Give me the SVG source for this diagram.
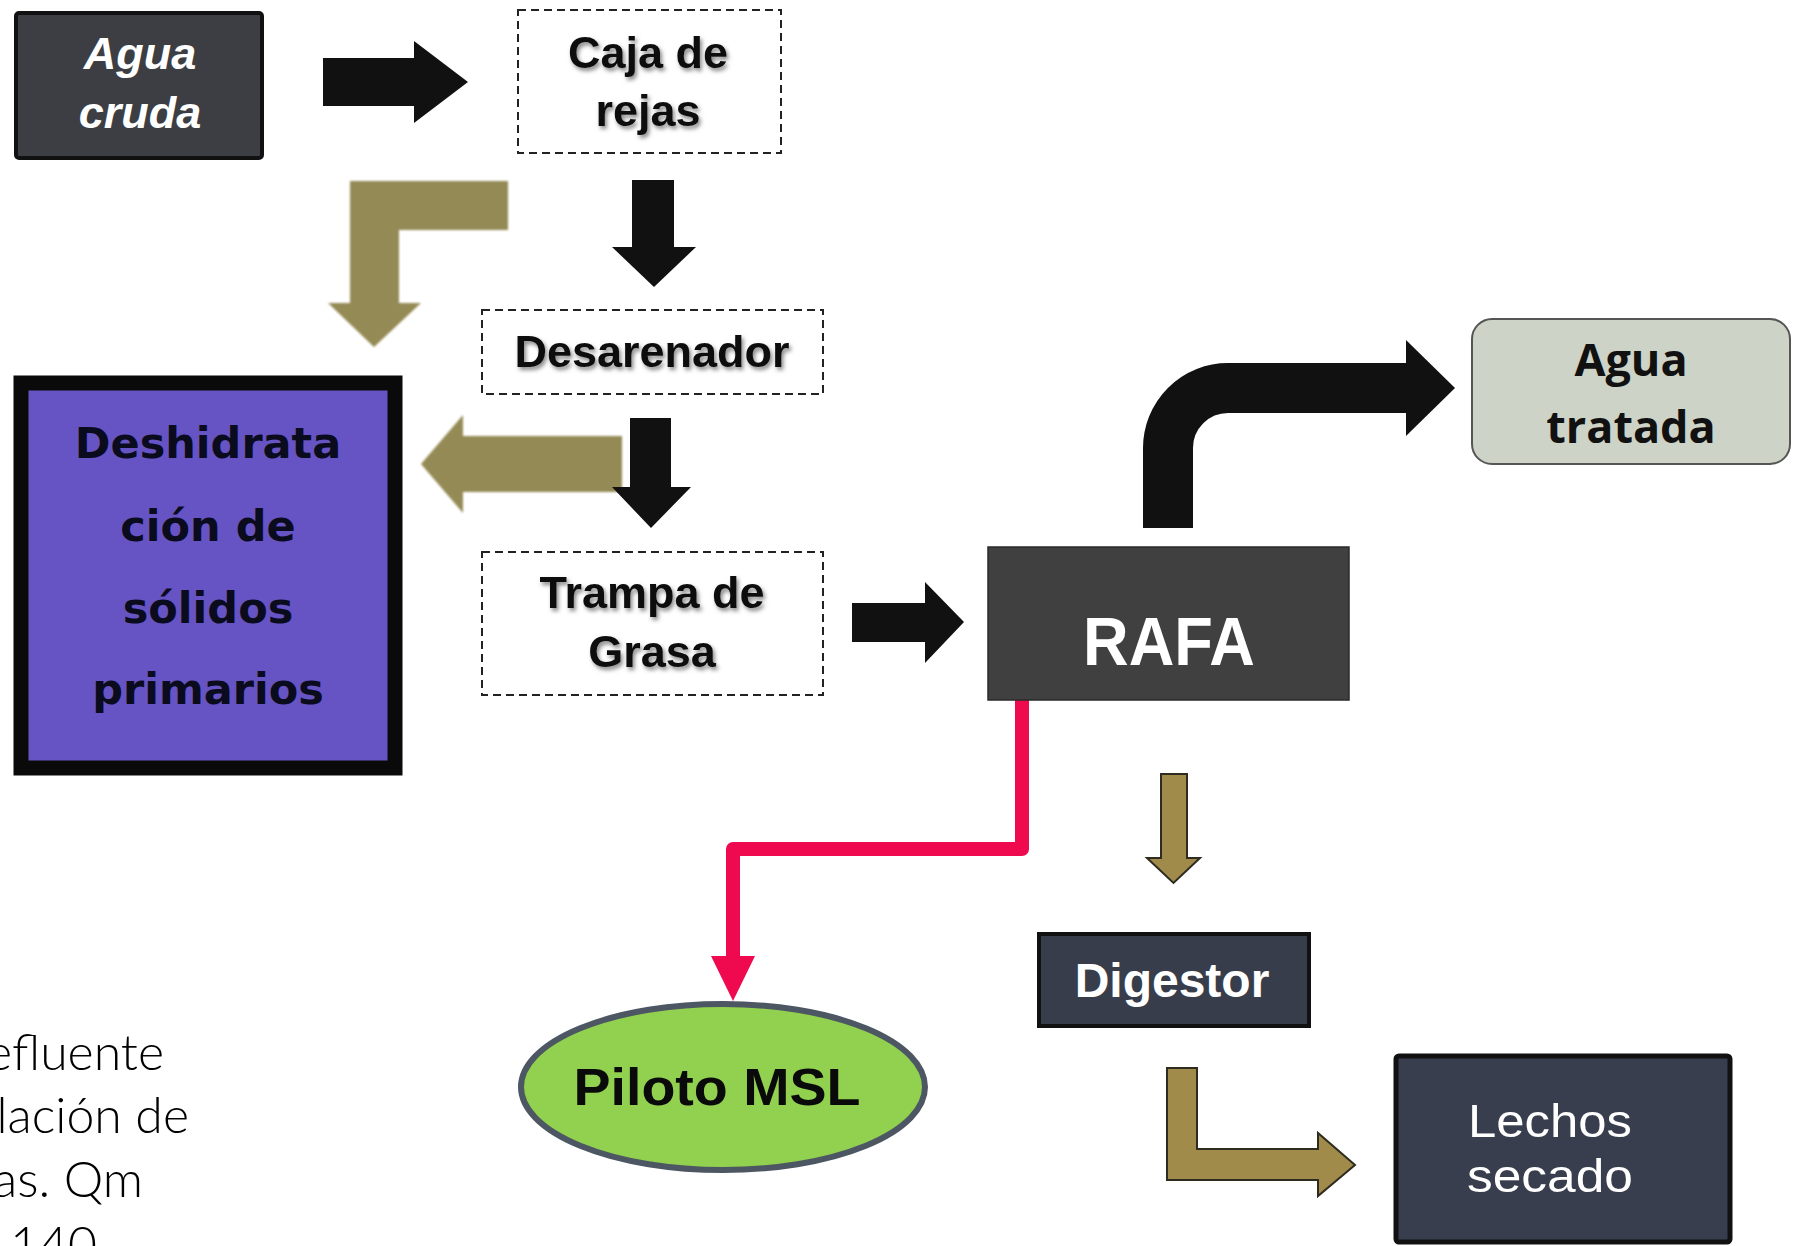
<svg xmlns="http://www.w3.org/2000/svg" width="1793" height="1246" viewBox="0 0 1793 1246">
<defs>
<style>
.dash{fill:#ffffff;stroke:#222;stroke-width:2;stroke-dasharray:8 5}
.blk{fill:#111}
.olv{fill:#948a54}
.olv2{fill:#a08b4a;stroke:#2e2b20;stroke-width:2;stroke-linejoin:miter}
.bt{font-family:'Liberation Sans',Arial,sans-serif;font-weight:bold;fill:#0a0a0a;font-size:45px;text-anchor:middle}
.wt{font-family:'Liberation Sans',Arial,sans-serif;font-weight:bold;fill:#ffffff;text-anchor:middle}
.cap{font-family:Lato,'Liberation Sans',sans-serif;font-weight:300;font-size:50px;fill:#000;text-anchor:end}
</style>
<filter id="sh" x="-10%" y="-20%" width="130%" height="150%">
<feDropShadow dx="2" dy="3" stdDeviation="2" flood-color="#555" flood-opacity="0.7"/>
</filter>
<filter id="soft" x="-5%" y="-5%" width="110%" height="110%">
<feGaussianBlur stdDeviation="1.2"/>
</filter>
</defs>
<rect width="1793" height="1246" fill="#ffffff"/>

<g id="connectors">
<polygon class="blk" points="323,58 414,58 414,41 468,82 414,123 414,106 323,106"/>
<polygon class="blk" points="632,180 674,180 674,247 696,247 654,287 612,247 632,247"/>
<polygon class="olv" filter="url(#soft)" points="350,181 508,181 508,230 399,230 399,303 421,303 374,347 328,303 350,303"/>
<polygon class="olv" filter="url(#soft)" points="622,436 463,436 463,415 421,464 463,513 463,492 622,492"/>
<polygon class="blk" points="630,418 671,418 671,487 691,487 651,528 612,487 630,487"/>
<polygon class="blk" points="852,603 925,603 925,582 964,622 925,663 925,642 852,642"/>
<path d="M1168,528 V448 A60,60 0 0 1 1228,388 H1408" fill="none" stroke="#111" stroke-width="50"/>
<polygon class="blk" points="1406,340 1455,388 1406,436"/>
<path d="M1022,694 V849 H733 V958" fill="none" stroke="#ef0a50" stroke-width="14" stroke-linejoin="round"/>
<polygon fill="#ef0a50" points="711,956 755,956 733,1001"/>
<polygon class="olv2" points="1161,774 1187,774 1187,858 1200,858 1173.5,883 1147,858 1161,858"/>
<polygon class="olv2" points="1167,1068 1197,1068 1197,1149 1318,1149 1318,1133 1355,1165 1318,1196 1318,1180 1167,1180"/>
</g>

<g id="agua-cruda">
<rect x="16" y="13" width="246" height="145" rx="3" fill="#3c3e43" stroke="#111" stroke-width="4"/>
<text class="wt" x="140" y="69" font-size="45" font-style="italic">Agua</text>
<text class="wt" x="140" y="128" font-size="45" font-style="italic">cruda</text>
</g>

<g id="caja-de-rejas">
<rect class="dash" x="518" y="10" width="263" height="143"/>
<text class="bt" x="648" y="68" filter="url(#sh)">Caja de</text>
<text class="bt" x="648" y="126" filter="url(#sh)">rejas</text>
</g>

<g id="desarenador">
<rect class="dash" x="482" y="310" width="341" height="84"/>
<text class="bt" x="652" y="367" filter="url(#sh)">Desarenador</text>
</g>

<g id="deshidratacion">
<rect x="21" y="383" width="374" height="385" fill="#6654c4" stroke="#0a0a0a" stroke-width="15"/>
<g font-family="'DejaVu Sans',Verdana,sans-serif" font-weight="bold" font-size="43" fill="#0b0b1e" text-anchor="middle">
<text x="208" y="458">Deshidrata</text>
<text x="208" y="541">ción de</text>
<text x="208" y="623">sólidos</text>
<text x="208" y="704">primarios</text>
</g>
</g>

<g id="trampa-de-grasa">
<rect class="dash" x="482" y="552" width="341" height="143"/>
<text class="bt" x="652" y="608" filter="url(#sh)">Trampa de</text>
<text class="bt" x="652" y="667" filter="url(#sh)">Grasa</text>
</g>

<g id="rafa">
<rect x="988" y="547" width="361" height="153" fill="#404040" stroke="#2a2a2a" stroke-width="1.5"/>
<text class="wt" x="1169" y="665" font-size="68" textLength="172" lengthAdjust="spacingAndGlyphs">RAFA</text>
</g>

<g id="agua-tratada">
<rect x="1472" y="319" width="318" height="145" rx="20" fill="#cdd3c6" stroke="#555" stroke-width="2"/>
<g font-family="'Open Sans','Liberation Sans',sans-serif" font-weight="bold" font-size="45" fill="#111" text-anchor="middle">
<text x="1631" y="376">Agua</text>
<text x="1631" y="443">tratada</text>
</g>
</g>

<g id="piloto-msl">
<ellipse cx="723" cy="1087" rx="202" ry="83" fill="#92d050" stroke="#4d5763" stroke-width="6"/>
<text x="717" y="1105" font-family="'Liberation Sans',Arial,sans-serif" font-weight="bold" font-size="52" fill="#0a0a0a" text-anchor="middle" textLength="287" lengthAdjust="spacingAndGlyphs">Piloto MSL</text>
</g>

<g id="digestor">
<rect x="1039" y="934" width="270" height="92" fill="#383d4b" stroke="#111" stroke-width="4"/>
<text class="wt" x="1172" y="997" font-size="48">Digestor</text>
</g>

<g id="lechos-secado">
<rect x="1396" y="1056" width="334" height="186" rx="3" fill="#383e4d" stroke="#111" stroke-width="5"/>
<g font-family="'Liberation Sans',Arial,sans-serif" font-size="46" fill="#ffffff" text-anchor="middle">
<text x="1550" y="1137" textLength="164" lengthAdjust="spacingAndGlyphs">Lechos</text>
<text x="1550" y="1192" textLength="166" lengthAdjust="spacingAndGlyphs">secado</text>
</g>
</g>

<g id="caption">
<text class="cap" x="164" y="1070">efluente</text>
<text class="cap" x="189" y="1133">lación de</text>
<text class="cap" x="143" y="1197">as. Qm</text>
<text class="cap" x="97" y="1262">de 140</text>
</g>
</svg>
